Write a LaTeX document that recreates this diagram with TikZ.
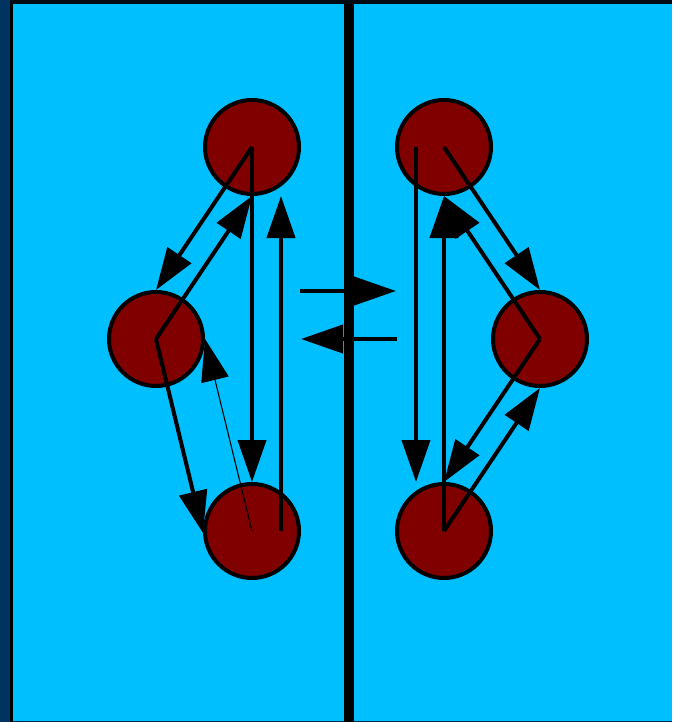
\documentclass[tikz,border=0pt]{standalone}
\usetikzlibrary{arrows.meta}
\definecolor{sky}{RGB}{0,191,255}
\definecolor{navyband}{RGB}{0,51,95}
\definecolor{statered}{RGB}{128,0,0}
\begin{document}
\begin{tikzpicture}[x=1pt,y=-1pt,
  state/.style={circle, draw=black, line width=4pt, fill=statered, minimum size=94pt, inner sep=0pt},
  flow/.style={line width=4pt, -{Triangle[length=42pt,width=28pt]}},
  thinflow/.style={line width=1.1pt, -{Triangle[length=42pt,width=28pt]}}]
  \useasboundingbox (0,0) rectangle (672,722);
  % background panels and frame
  \fill[navyband] (0,0) rectangle (672,722);
  \fill[sky] (13,4) rectangle (672,720.5);
  \fill[black] (10,1) rectangle (13,722);
  \fill[black!80!navyband] (10,0.5) rectangle (672,4);
  \fill[navyband!80!black] (13,720.5) rectangle (672,722);
  % divider between the two halves
  \fill[black] (343.5,4) rectangle (353.5,722);

  % left group
  \node[state] (lt) at (252,147) {};
  \node[state] (lm) at (156,339) {};
  \node[state] (lb) at (252,531) {};
  % right group
  \node[state] (rt) at (444,147) {};
  \node[state] (rm) at (540,339) {};
  \node[state] (rb) at (444,531) {};

  % left transitions
  \draw[flow] (lt.center) -- (lm.north);
  \draw[flow] (lm.center) -- (lt.south);
  \draw[flow] (lt.center) -- (lb.north);
  \draw[flow] ([xshift=29pt]lb.center) -- ([xshift=29pt]lt.south);
  \draw[flow] (lm.center) -- ([yshift=-2pt]lb.west);
  \draw[thinflow] (lb.center) -- (lm.east);

  % right transitions
  \draw[flow] (rt.center) -- (rm.north);
  \draw[flow] (rm.center) -- (rt.south);
  \draw[flow] ([xshift=-28pt]rt.center) -- ([xshift=-28pt]rb.north);
  \draw[flow] (rb.center) -- (rt.south);
  \draw[flow] (rm.center) -- (rb.north);
  \draw[flow] (rb.center) -- (rm.south);

  % exchange across the divider
  \coordinate (outL) at (300,291);
  \coordinate (inR) at (396,291);
  \coordinate (outR) at (397,339);
  \coordinate (inL) at (301,339);
  \draw[flow] (outL) -- (inR);
  \draw[flow] (outR) -- (inL);
\end{tikzpicture}
\end{document}
